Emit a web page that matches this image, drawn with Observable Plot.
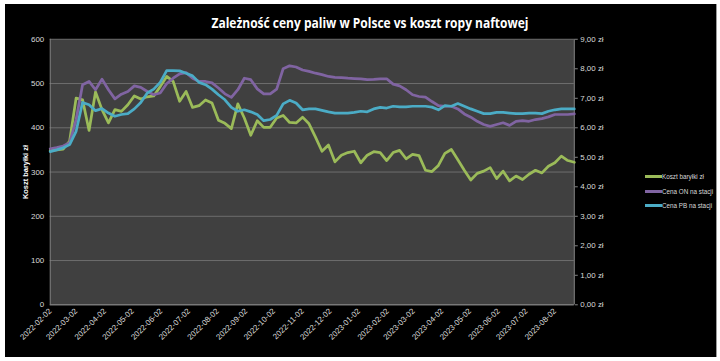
<!DOCTYPE html>
<html><head><meta charset="utf-8">
<script src="https://cdn.jsdelivr.net/npm/d3@7"></script>
<script src="https://cdn.jsdelivr.net/npm/@observablehq/plot@0.6"></script>
<style>
html,body{margin:0;padding:0;background:#fff;width:720px;height:361px;overflow:hidden;}
#frame{position:absolute;left:5px;top:4px;width:711px;height:353px;background:#000;overflow:hidden;border-right:1px solid #9a9a9a;}
#chart{position:absolute;left:-5px;top:-4px;}
#title{position:absolute;left:-5px;top:-4px;}
.leg{position:absolute;left:640px;font:7.5px "Liberation Sans",Arial,sans-serif;color:#d9d9d9;white-space:nowrap;line-height:10px;}
.leg i{display:inline-block;width:17px;height:3px;vertical-align:middle;position:relative;top:-1px;}
.leg span{display:inline-block;transform:scaleX(0.84);transform-origin:0 50%;}
</style></head>
<body>
<div id="frame">
  <div id="chart"></div>
  <svg id="title" width="720" height="40"><text x="370" y="28" text-anchor="middle" textLength="317" lengthAdjust="spacingAndGlyphs" font-family="Open Sans, Liberation Sans, sans-serif" font-weight="bold" font-size="15" fill="#ffffff">Zależność ceny paliw w Polsce vs koszt ropy naftowej</text></svg>
  <div id="legend"></div>
</div>
<script>
const dates = ["2022-02-02","2022-02-09","2022-02-16","2022-02-23","2022-03-02","2022-03-09","2022-03-16","2022-03-23","2022-03-30","2022-04-06","2022-04-13","2022-04-20","2022-04-27","2022-05-04","2022-05-11","2022-05-18","2022-05-25","2022-06-01","2022-06-08","2022-06-15","2022-06-22","2022-06-29","2022-07-06","2022-07-13","2022-07-20","2022-07-27","2022-08-03","2022-08-10","2022-08-17","2022-08-24","2022-08-31","2022-09-07","2022-09-14","2022-09-21","2022-09-28","2022-10-05","2022-10-12","2022-10-19","2022-10-26","2022-11-02","2022-11-09","2022-11-16","2022-11-23","2022-11-30","2022-12-07","2022-12-14","2022-12-21","2022-12-28","2023-01-04","2023-01-11","2023-01-18","2023-01-25","2023-02-01","2023-02-08","2023-02-15","2023-02-22","2023-03-01","2023-03-08","2023-03-15","2023-03-22","2023-03-29","2023-04-05","2023-04-12","2023-04-19","2023-04-26","2023-05-03","2023-05-10","2023-05-17","2023-05-24","2023-05-31","2023-06-07","2023-06-14","2023-06-21","2023-06-28","2023-07-05","2023-07-12","2023-07-19","2023-07-26","2023-08-02","2023-08-09","2023-08-16","2023-08-23"];

// Koszt baryłki (zł) — left axis
const koszt = [349,350,352,370,467,463,394,481,441,411,441,437,452,472,465,470,472,493,516,505,460,482,446,450,463,456,417,410,398,454,422,383,416,401,401,422,428,412,411,424,409,379,347,361,323,338,344,347,321,338,346,344,326,344,349,330,340,337,304,301,315,342,351,328,304,282,297,302,310,285,302,280,291,283,295,304,298,313,321,336,326,322];

// Cena ON na stacji (zł) — right axis
const cenaON = [5.29,5.33,5.38,5.49,6.28,7.46,7.57,7.29,7.65,7.29,6.98,7.14,7.23,7.42,7.37,7.23,7.12,7.18,7.49,7.68,7.83,7.87,7.68,7.57,7.57,7.52,7.35,7.15,7.03,7.29,7.68,7.63,7.32,7.15,7.15,7.31,8.00,8.10,8.06,7.96,7.91,7.85,7.80,7.74,7.71,7.70,7.68,7.67,7.66,7.63,7.64,7.66,7.66,7.48,7.42,7.29,7.12,7.06,7.04,6.89,6.75,6.73,6.73,6.64,6.47,6.36,6.22,6.11,6.05,6.11,6.17,6.08,6.22,6.24,6.22,6.28,6.31,6.37,6.45,6.45,6.45,6.47];

// Cena PB na stacji (zł) — right axis
const cenaPB = [5.19,5.25,5.32,5.43,5.88,6.86,6.78,6.58,6.65,6.50,6.39,6.45,6.48,6.64,6.86,7.18,7.31,7.54,7.94,7.94,7.93,7.85,7.76,7.54,7.46,7.31,7.12,6.95,6.69,6.56,6.61,6.54,6.45,6.24,6.28,6.42,6.81,6.93,6.84,6.61,6.64,6.64,6.59,6.54,6.50,6.50,6.50,6.52,6.56,6.54,6.64,6.69,6.67,6.73,6.71,6.71,6.73,6.73,6.73,6.70,6.61,6.75,6.73,6.82,6.73,6.64,6.56,6.48,6.48,6.52,6.52,6.50,6.48,6.48,6.50,6.50,6.48,6.56,6.61,6.64,6.64,6.64];

const seriesNames = ["Koszt baryłki zł", "Cena ON na stacji", "Cena PB na stacji"];
const seriesColors = ["#9bbb59", "#8064a2", "#4bacc6"];

const leftTicks = [0,100,200,300,400,500,600];
const rightTicks = [0,1,2,3,4,5,6,7,8,9];
const xTickLabels = ["2022-02-02","2022-03-02","2022-04-02","2022-05-02","2022-06-02","2022-07-02","2022-08-02","2022-09-02","2022-10-02","2022-11-02","2022-12-02","2023-01-02","2023-02-02","2023-03-02","2023-04-02","2023-05-02","2023-06-02","2023-07-02","2023-08-02"];
const yAxisTitle = "Koszt baryłki zł";

const parse = d3.utcParse("%Y-%m-%d");
const fmt = d3.utcFormat("%Y-%m-%d");
const X = dates.map(parse);
const k = 600 / 9; // right-axis zł -> left-axis units

const rows = [];
dates.forEach((d, i) => {
  rows.push({date: X[i], v: koszt[i], s: seriesNames[0]});
  rows.push({date: X[i], v: cenaON[i] * k, s: seriesNames[1]});
  rows.push({date: X[i], v: cenaPB[i] * k, s: seriesNames[2]});
});

const chart = Plot.plot({
  width: 720, height: 361,
  marginLeft: 50, marginRight: 143, marginTop: 39, marginBottom: 55,
  style: {background: "transparent", color: "#d9d9d9", fontFamily: "Liberation Sans, Arial, sans-serif", fontSize: "8px"},
  x: {type: "utc", domain: [X[0], X[X.length - 1]]},
  y: {domain: [0, 600]},
  color: {domain: seriesNames, range: seriesColors},
  marks: [
    Plot.frame({fill: "#404040", stroke: null}),
    Plot.gridY(leftTicks, {stroke: "#6e6e6e", strokeOpacity: 1, strokeWidth: 1}),
    Plot.ruleX([X[0], X[X.length - 1]], {stroke: "#858585", strokeWidth: 1}),
    Plot.ruleY([0], {stroke: "#858585", strokeWidth: 1}),
    Plot.axisY(leftTicks, {anchor: "left", tickSize: 0, tickPadding: 6, label: null, fill: "#d9d9d9"}),
    Plot.axisY(rightTicks.map(v => v * k), {anchor: "right", tickSize: 3, tickPadding: 3, stroke: "#858585", fill: "#d9d9d9", label: null,
      tickFormat: d => (d / k).toFixed(2).replace(".", ",") + " zł"}),
    Plot.axisX(xTickLabels.map(parse), {anchor: "bottom", tickSize: 0, tickPadding: 5, tickRotate: -45, label: null, fill: "#d9d9d9", tickFormat: fmt}),
    Plot.text([yAxisTitle], {frameAnchor: "left", dx: -25, rotate: -90, textAnchor: "middle", fill: "#ffffff", fontWeight: "bold", fontSize: 7.5}),
    Plot.lineY(rows, {x: "date", y: "v", z: "s", stroke: "s", strokeWidth: 2.75, strokeLinejoin: "round", strokeLinecap: "round"})
  ]
});
document.getElementById("chart").appendChild(chart);

const legend = document.getElementById("legend");
const legTops = [168, 183, 197];
seriesNames.forEach((n, i) => {
  const div = document.createElement("div");
  div.className = "leg";
  div.style.top = legTops[i] + "px";
  div.innerHTML = `<i style="background:${seriesColors[i]}"></i>`;
  const sp = document.createElement("span");
  sp.textContent = n;
  div.appendChild(sp);
  legend.appendChild(div);
});
</script>
</body></html>
